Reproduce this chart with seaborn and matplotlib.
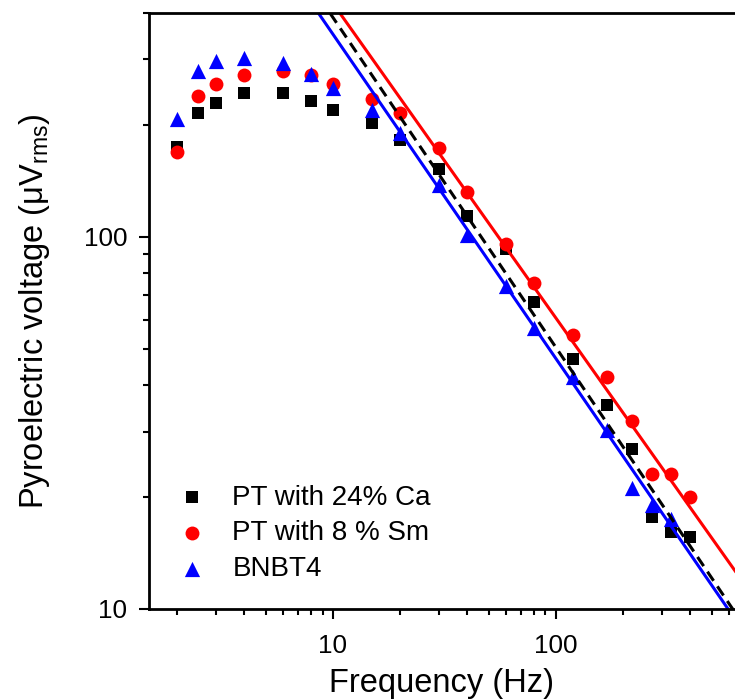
import numpy as np
import matplotlib
matplotlib.use("Agg")
import matplotlib.pyplot as plt
import seaborn as sns
from matplotlib.ticker import LogLocator, NullFormatter

# data
freq = [2, 2.5, 3, 4, 6, 8, 10, 15, 20, 30, 40, 60, 80, 120, 170, 220, 270, 330, 400]
ca24 = [175, 215, 229, 244, 244, 232, 219, 202, 182, 152, 114, 93, 67, 47, 35.3, 27.0, 17.7, 16.1, 15.6]
sm8 = [169, 239, 257, 273, 279, 273, 258, 235, 216, 174, 132, 96, 75, 54.4, 42, 32.1, 23.0, 23.0, 20.0]
bnbt4 = [207, 279, 297, 303, 294, 274, 252, 220, 190, 138, 101, 74, 57, 42, 30.2, 21.1, 19.0, 17.5]

labels = ["PT with 24% Ca", "PT with 8 % Sm", "BNBT4"]
colors = ["black", "red", "blue"]

# power-law fits V = 10**logA * f**slope
fit_logA = [3.478, 3.475, 3.418]
fit_slope = [-0.887, -0.846, -0.872]

xtick_vals = [10, 100]
xtick_labels = ["10", "100"]
ytick_vals = [10, 100]
ytick_labels = ["10", "100"]

sns.set_style("ticks")
plt.rcParams["font.family"] = ["Liberation Sans", "DejaVu Sans"]
plt.rcParams["mathtext.fontset"] = "custom"
plt.rcParams["mathtext.rm"] = "Liberation Sans"
for key in ["text.color", "axes.labelcolor", "xtick.color", "ytick.color",
            "xtick.labelcolor", "ytick.labelcolor", "axes.edgecolor"]:
    plt.rcParams[key] = "black"

fig, ax = plt.subplots(figsize=(7.35, 7), dpi=100)
fig.subplots_adjust(left=0.2027, right=1.0, bottom=0.13, top=0.9814)

sns.scatterplot(x=freq, y=ca24, marker="s", s=75, color=colors[0],
                linewidth=0, label=labels[0], ax=ax)
sns.scatterplot(x=freq, y=sm8, marker="o", s=100, color=colors[1],
                linewidth=0, label=labels[1], ax=ax)
sns.scatterplot(x=freq[:len(bnbt4)], y=bnbt4, marker="^", s=120, color=colors[2],
                linewidth=0, label=labels[2], ax=ax)

f_fit = np.logspace(0.5, 3.2, 60)
for logA, slope, c in zip(fit_logA, fit_slope, colors):
    v_fit = 10 ** (logA + slope * np.log10(f_fit))
    sns.lineplot(x=f_fit, y=v_fit, color=c, linewidth=2.2, sort=False, ax=ax)
    if c == "black":
        ax.lines[-1].set_dashes([3.6, 2.2])

ax.set_xscale("log")
ax.set_yscale("log")
ax.set_xlim(1.5, 637)
ax.set_ylim(10, 400)

ax.set_xticks(xtick_vals, labels=xtick_labels)
ax.set_yticks(ytick_vals, labels=ytick_labels)
ax.xaxis.set_minor_locator(LogLocator(base=10, subs=np.arange(2, 10)))
ax.yaxis.set_minor_locator(LogLocator(base=10, subs=np.arange(2, 10)))
ax.xaxis.set_minor_formatter(NullFormatter())
ax.yaxis.set_minor_formatter(NullFormatter())

ax.tick_params(which="major", length=7.5, width=1.5, labelsize=18.8,
               color="black", labelcolor="black")
ax.tick_params(which="minor", length=4.5, width=1.5, color="black")
ax.tick_params(axis="x", which="major", pad=10.5)
ax.tick_params(axis="y", which="major", pad=8)

for side in ["left", "bottom", "top"]:
    ax.spines[side].set_linewidth(2.0)
    ax.spines[side].set_color("black")
ax.spines["right"].set_visible(False)

ax.set_xlabel("Frequency (Hz)", fontsize=23.5, labelpad=7.5, color="black")
ax.set_ylabel("Pyroelectric voltage (μV$_{\\mathregular{rms}}$)", fontsize=23.5,
              labelpad=23, color="black")

leg = ax.legend(loc="lower left", bbox_to_anchor=(0.045, 0.045), frameon=False,
                fontsize=20, handlelength=1.2, handletextpad=0.85, labelspacing=0.35,
                borderpad=0, borderaxespad=0)
for t in leg.get_texts():
    t.set_color("black")

fig.savefig("out.png", dpi=100)
